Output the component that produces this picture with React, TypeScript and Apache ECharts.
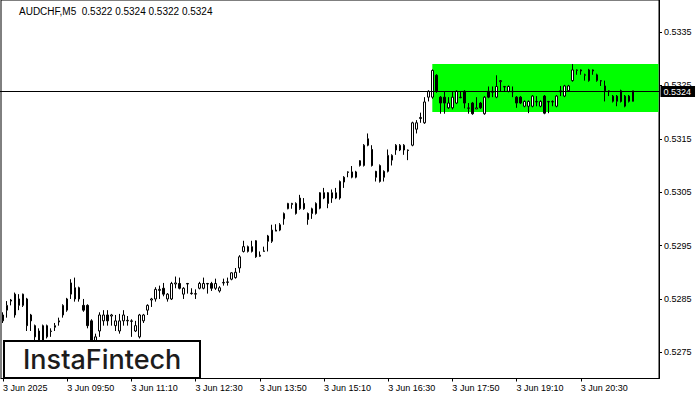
import React, { useEffect, useRef } from "react";
import * as echarts from "echarts";

const headerText = "AUDCHF,M5  0.5322 0.5324 0.5322 0.5324";
const logoText = "InstaFintech";
const tickLabels = [
  "3 Jun 2025", "3 Jun 09:50", "3 Jun 11:10", "3 Jun 12:30", "3 Jun 13:50",
  "3 Jun 15:10", "3 Jun 16:30", "3 Jun 17:50", "3 Jun 19:10", "3 Jun 20:30",
];
const priceTicks = [0.5275, 0.5285, 0.5295, 0.5305, 0.5315, 0.5325, 0.5335];
const currentPrice = 0.5324;
const zoneStartIndex = 107;
const zoneTop = 0.5329;
const zoneBottom = 0.532;
const emptySlots = 6;

const opens = [
  0.52809, 0.52829, 0.52846, 0.52859, 0.52838, 0.52838, 0.5285, 0.5282, 0.528, 0.5279,
  0.52772, 0.52779, 0.52789, 0.52797, 0.52807, 0.5282, 0.52829, 0.52859, 0.52871, 0.52871,
  0.52838, 0.52838, 0.52809, 0.52772, 0.5279, 0.52809, 0.5282, 0.52818, 0.528, 0.5279,
  0.52809, 0.52809, 0.52808, 0.5279, 0.52779, 0.52809, 0.52829, 0.52848, 0.5285, 0.52866,
  0.5287, 0.5285, 0.5285, 0.52878, 0.52879, 0.52859, 0.52878, 0.5286, 0.52859, 0.5287,
  0.5287, 0.52878, 0.52879, 0.5287, 0.52865, 0.5288, 0.52881, 0.52887, 0.5289, 0.52908,
  0.52939, 0.52939, 0.52939, 0.52959, 0.5293, 0.52939, 0.52958, 0.52958, 0.52977, 0.52979,
  0.53, 0.53019, 0.53027, 0.5301, 0.53019, 0.53029, 0.5301, 0.5301, 0.5301, 0.5302,
  0.53049, 0.53049, 0.53039, 0.53039, 0.53039, 0.53078, 0.53087, 0.53078, 0.53078, 0.531,
  0.531, 0.5315, 0.5313, 0.53089, 0.5307, 0.53089, 0.53089, 0.5311, 0.53129, 0.53129,
  0.53129, 0.53128, 0.53138, 0.53168, 0.53188, 0.5318, 0.53228, 0.53228, 0.53269, 0.53228,
  0.53228, 0.53208, 0.53208, 0.53217, 0.53227, 0.53239, 0.53207, 0.53217, 0.53206, 0.53217,
  0.53197, 0.53239, 0.53237, 0.53228, 0.53257, 0.53247, 0.53239, 0.53238, 0.53228, 0.53228,
  0.53211, 0.53211, 0.53211, 0.53219, 0.53211, 0.5323, 0.53219, 0.53219, 0.53211, 0.53238,
  0.5323, 0.5324, 0.53259, 0.53278, 0.53277, 0.53269, 0.53259, 0.53277, 0.53259, 0.53258,
  0.53249, 0.53238, 0.5322, 0.5322, 0.5324, 0.53211, 0.5322, 0.5322,
];
const closes = [
  0.5282, 0.52838, 0.52848, 0.5282, 0.5285, 0.52859, 0.528, 0.52809, 0.52779, 0.52772,
  0.528, 0.528, 0.5279, 0.528, 0.52809, 0.52838, 0.5285, 0.5288, 0.5285, 0.5285,
  0.52829, 0.528, 0.52765, 0.52779, 0.5282, 0.5282, 0.52809, 0.5282, 0.52809, 0.52809,
  0.5282, 0.5281, 0.52809, 0.528, 0.5282, 0.5282, 0.52838, 0.5285, 0.52868, 0.52868,
  0.52859, 0.52859, 0.52879, 0.5288, 0.5287, 0.5287, 0.52879, 0.52861, 0.5286, 0.52879,
  0.52879, 0.52879, 0.5287, 0.52879, 0.52871, 0.52881, 0.52882, 0.52899, 0.529, 0.52929,
  0.52948, 0.52948, 0.52948, 0.52929, 0.52932, 0.5294, 0.52968, 0.52979, 0.52979, 0.52989,
  0.5301, 0.53029, 0.53029, 0.53029, 0.53039, 0.53019, 0.52999, 0.53019, 0.53029, 0.53049,
  0.53039, 0.53029, 0.53049, 0.53049, 0.5307, 0.53069, 0.53088, 0.53088, 0.53088, 0.53109,
  0.53138, 0.53138, 0.531, 0.53078, 0.531, 0.53078, 0.53119, 0.53119, 0.53138, 0.53138,
  0.53138, 0.53129, 0.5318, 0.5318, 0.5319, 0.53219, 0.53239, 0.53278, 0.53239, 0.53217,
  0.53217, 0.53217, 0.53228, 0.53239, 0.53228, 0.53217, 0.53208, 0.53197, 0.53208, 0.53208,
  0.53228, 0.53228, 0.53239, 0.53248, 0.53259, 0.53248, 0.53248, 0.53239, 0.53217, 0.53217,
  0.5322, 0.5322, 0.5323, 0.5322, 0.5322, 0.53198, 0.5322, 0.5322, 0.5323, 0.5324,
  0.53249, 0.53249, 0.53279, 0.53279, 0.53279, 0.5327, 0.53279, 0.53279, 0.5327, 0.53259,
  0.5324, 0.5324, 0.5323, 0.5323, 0.5322, 0.5323, 0.5323, 0.5324,
];
const lows = [
  0.52805, 0.52815, 0.52838, 0.52815, 0.52829, 0.52835, 0.5279, 0.5279, 0.52772, 0.52765,
  0.52768, 0.52776, 0.52779, 0.5279, 0.528, 0.52815, 0.52826, 0.5285, 0.52845, 0.52845,
  0.52826, 0.52795, 0.5276, 0.52765, 0.52779, 0.528, 0.528, 0.528, 0.5279, 0.52785,
  0.528, 0.528, 0.52779, 0.52788, 0.52776, 0.52805, 0.5282, 0.52835, 0.52845, 0.5285,
  0.52855, 0.52845, 0.52848, 0.5287, 0.52868, 0.5285, 0.5286, 0.52858, 0.5285, 0.52868,
  0.52868, 0.5286, 0.52865, 0.52867, 0.52862, 0.52875, 0.52875, 0.52885, 0.52888, 0.52899,
  0.52937, 0.52937, 0.52937, 0.52927, 0.52929, 0.52939, 0.52939, 0.52955, 0.52977, 0.52977,
  0.52989, 0.53018, 0.53019, 0.53008, 0.53017, 0.53017, 0.52989, 0.53, 0.53008, 0.53018,
  0.53037, 0.5302, 0.5303, 0.53037, 0.53036, 0.53058, 0.53078, 0.53076, 0.53076, 0.53098,
  0.53098, 0.53136, 0.53098, 0.5307, 0.53068, 0.5307, 0.53087, 0.531, 0.5312, 0.53127,
  0.5312, 0.5311, 0.53136, 0.5316, 0.5318, 0.53178, 0.5322, 0.53225, 0.53236, 0.53197,
  0.53197, 0.53206, 0.53205, 0.53215, 0.53226, 0.53207, 0.53197, 0.53195, 0.53206, 0.53206,
  0.53195, 0.53226, 0.53228, 0.53226, 0.53239, 0.53239, 0.53237, 0.53228, 0.53208, 0.53215,
  0.53209, 0.53198, 0.53209, 0.53211, 0.53209, 0.53196, 0.53198, 0.53211, 0.53209, 0.5323,
  0.53228, 0.53238, 0.53257, 0.5327, 0.5327, 0.53259, 0.53257, 0.5327, 0.53257, 0.53249,
  0.5322, 0.5323, 0.53218, 0.53211, 0.53218, 0.53209, 0.53218, 0.5322,
];
const highs = [
  0.52825, 0.52846, 0.5285, 0.52862, 0.52859, 0.5286, 0.52852, 0.52822, 0.52802, 0.52795,
  0.52802, 0.52802, 0.52795, 0.52805, 0.52815, 0.5284, 0.52852, 0.52887, 0.5289, 0.52873,
  0.5285, 0.5284, 0.52812, 0.52785, 0.52825, 0.52829, 0.52829, 0.52822, 0.5282, 0.52822,
  0.52829, 0.52818, 0.52812, 0.52809, 0.52822, 0.52822, 0.5284, 0.52852, 0.52872, 0.52875,
  0.5288, 0.52861, 0.52882, 0.52892, 0.5289, 0.52872, 0.5288, 0.5287, 0.52868, 0.52882,
  0.5289, 0.5288, 0.52882, 0.52888, 0.52874, 0.52888, 0.5289, 0.529, 0.52908, 0.52932,
  0.52959, 0.5295, 0.52959, 0.5296, 0.52939, 0.52948, 0.5297, 0.52989, 0.5299, 0.52992,
  0.53012, 0.5303, 0.5303, 0.53031, 0.53045, 0.53039, 0.53012, 0.53021, 0.53031, 0.5305,
  0.53058, 0.5305, 0.53055, 0.53058, 0.53072, 0.5308, 0.53089, 0.53099, 0.5309, 0.5311,
  0.5314, 0.5316, 0.53138, 0.5309, 0.53102, 0.53091, 0.5313, 0.53121, 0.5314, 0.5314,
  0.5314, 0.5313, 0.53182, 0.53185, 0.53199, 0.53228, 0.53241, 0.5328, 0.53271, 0.5323,
  0.53239, 0.53228, 0.53239, 0.53241, 0.53239, 0.53241, 0.53217, 0.53219, 0.53228, 0.53219,
  0.5323, 0.53248, 0.53248, 0.53269, 0.5326, 0.53249, 0.5325, 0.53248, 0.5323, 0.5323,
  0.53222, 0.53222, 0.53232, 0.5323, 0.53222, 0.53232, 0.53221, 0.53222, 0.53232, 0.53249,
  0.53251, 0.53251, 0.5329, 0.5328, 0.5328, 0.53272, 0.53281, 0.5328, 0.53272, 0.5326,
  0.53259, 0.53241, 0.53232, 0.53232, 0.53242, 0.53232, 0.53232, 0.5324,
];

const FONT = "Liberation Sans, Arial, sans-serif";
const GRID = { left: 1, right: 41, top: -2, bottom: 21.5 };

export default function App() {
  const ref = useRef<HTMLDivElement>(null);

  useEffect(() => {
    const chart = echarts.init(ref.current as HTMLDivElement, null, { renderer: "svg" });
    const total = opens.length + emptySlots;
    const categories: string[] = [];
    for (let i = 0; i < total; i++) categories.push(String(i));
    const data = opens.map((o, i) => [o, closes[i], lows[i], highs[i]]);
    const showTick = (i: number) => i % 16 === 0 && i / 16 < tickLabels.length;

    chart.setOption({
      animation: false,
      backgroundColor: "#ffffff",
      grid: {
        ...GRID,
        show: true,
        borderColor: "#000",
        borderWidth: 1,
        backgroundColor: "transparent",
      },
      xAxis: {
        type: "category",
        data: categories,
        boundaryGap: true,
        axisLine: { show: true, lineStyle: { color: "#000", width: 1 } },
        axisTick: {
          show: true,
          alignWithLabel: true,
          interval: (i: number) => showTick(i),
          length: 3,
          lineStyle: { color: "#000" },
        },
        axisLabel: {
          interval: (i: number) => showTick(i),
          formatter: (_v: string, i: number) => tickLabels[i / 16] ?? "",
          align: "left",
          margin: 5,
          fontSize: 9,
          fontFamily: FONT,
          color: "#000",
        },
        splitLine: { show: false },
      },
      yAxis: {
        type: "value",
        position: "right",
        min: 0.52701,
        max: 0.5341,
        scale: true,
        splitLine: { show: false },
        axisLine: { show: true, onZero: false, lineStyle: { color: "#000", width: 1 } },
        axisTick: { show: true, length: 3, customValues: priceTicks, lineStyle: { color: "#000" } },
        axisLabel: {
          customValues: priceTicks,
          formatter: (v: number) => v.toFixed(4),
          margin: 5,
          fontSize: 9,
          fontFamily: FONT,
          color: "#000",
        },
      },
      series: [
        {
          type: "candlestick",
          data,
          barWidth: 2,
          itemStyle: {
            color: "#ffffff",
            color0: "#000000",
            borderColor: "#000000",
            borderColor0: "#000000",
            borderColorDoji: "#000000",
            borderWidth: 1,
          },
        },
      ],
    });

    const pTop = chart.convertToPixel({ xAxisIndex: 0, yAxisIndex: 0 }, [zoneStartIndex, zoneTop]) as number[];
    const pBot = chart.convertToPixel({ xAxisIndex: 0, yAxisIndex: 0 }, [zoneStartIndex, zoneBottom]) as number[];
    const pCur = chart.convertToPixel({ xAxisIndex: 0, yAxisIndex: 0 }, [0, currentPrice]) as number[];
    const leftEdge = GRID.left;
    const rightEdge = chart.getWidth() - GRID.right - 0.5;
    const lineY = Math.round(pCur[1]) + 0.5;

    chart.setOption({
      graphic: [
        {
          type: "rect",
          id: "zone",
          z: 1,
          silent: true,
          shape: { x: pTop[0], y: pTop[1], width: rightEdge - pTop[0], height: pBot[1] - pTop[1] },
          style: { fill: "#00ff00" },
        },
        {
          type: "line",
          id: "priceLine",
          z: 3,
          silent: true,
          shape: { x1: leftEdge - 1, y1: lineY, x2: rightEdge + 0.5, y2: lineY },
          style: { stroke: "#000", lineWidth: 1 },
        },
        {
          type: "text",
          id: "priceLabel",
          z: 5,
          x: rightEdge + 2,
          y: lineY,
          style: {
            text: currentPrice.toFixed(4),
            fontSize: 9,
            fontFamily: FONT,
            fill: "#fff",
            backgroundColor: "#000",
            padding: [1, 4, 0, 3],
            lineHeight: 10,
            verticalAlign: "middle",
          },
        },
        {
          type: "text",
          id: "header",
          z: 10,
          left: 19,
          top: 6,
          style: { text: headerText, fontSize: 10, fontFamily: FONT, fill: "#000" },
        },
        {
          type: "rect",
          id: "logoBox",
          z: 20,
          shape: { x: 4, y: 341, width: 196, height: 37 },
          style: { fill: "#ffffff", stroke: "#000", lineWidth: 2 },
        },
        {
          type: "text",
          id: "logoText",
          z: 21,
          x: 23,
          y: 359,
          style: {
            text: logoText,
            fontSize: 27,
            fontWeight: 500,
            fontFamily: "Inter, Lato, sans-serif",
            fill: "#1c1c1c",
            verticalAlign: "middle",
          },
        },
      ],
    });

    return () => chart.dispose();
  }, []);

  return (
    <div
      ref={ref}
      style={{ position: "fixed", left: 0, top: 0, width: 700, height: 400, background: "#fff" }}
    />
  );
}
